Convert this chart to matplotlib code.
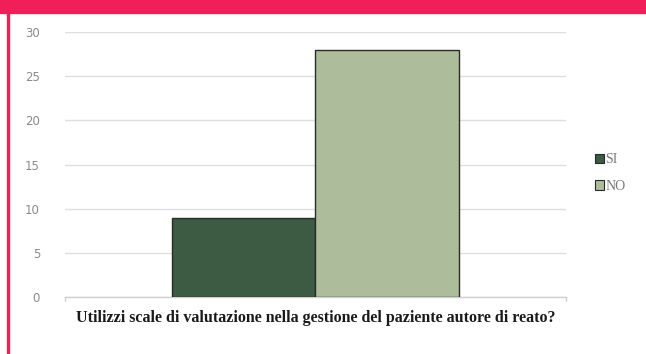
import matplotlib.pyplot as plt
from matplotlib.patches import Rectangle, Patch

categories = ["SI", "NO"]
values = [9, 28]
colors = ["#3d5a42", "#adbd9c"]
question = "Utilizzi scale di valutazione nella gestione del paziente autore di reato?"
yticks = [0, 5, 10, 15, 20, 25, 30]

fig = plt.figure(figsize=(6.46, 3.54), dpi=100)
fig.patch.set_facecolor("white")

# pink frame: thick band on top, thin line on the left
fig.patches.append(Rectangle((0, 1 - 13 / 354), 1, 13 / 354, transform=fig.transFigure,
                             color="#f01f5a", zorder=0))
fig.patches.append(Rectangle((7 / 646, 0), 2 / 646, 1, transform=fig.transFigure,
                             color="#f01f5a", zorder=0))

ax = fig.add_axes([65 / 646, 1 - 297 / 354, (566 - 65) / 646, (297 - 32) / 354])

width = 0.286
offsets = [-width / 2, width / 2]
for off, v, c in zip(offsets, values, colors):
    ax.bar(off, v, width=width, color=c, edgecolor="#2a2a2a", linewidth=1.0, zorder=3)

ax.set_xlim(-0.5, 0.5)
ax.set_ylim(0, 30)
ax.set_yticks(yticks)
ax.yaxis.grid(True, color="#dedede", linewidth=1.0, zorder=0)
ax.set_xticks([-0.5, 0.5])
ax.set_xticklabels([])
ax.tick_params(axis="x", length=3, color="#d0d0d0", width=1)
ax.tick_params(axis="y", length=0, pad=18, labelcolor="#8a8a8a", labelsize=8.5)
for lab in ax.get_yticklabels():
    lab.set_family("DejaVu Sans")

for s in ["top", "right", "left"]:
    ax.spines[s].set_visible(False)
ax.spines["bottom"].set_color("#d0d0d0")
ax.spines["bottom"].set_linewidth(1.0)

ax.set_xlabel(question, family="Liberation Serif", fontweight="bold", fontsize=11.5,
              color="#1a1a1a", labelpad=3)

handles = [Patch(facecolor=c, edgecolor="#2a2a2a", linewidth=0.8) for c in colors]
fig.legend(handles, categories, loc="center left", bbox_to_anchor=(582 / 646, 1 - 173 / 354),
           frameon=False, handlelength=0.65, handleheight=0.65, handletextpad=0.15,
           labelspacing=1.0, prop={"family": "Liberation Serif", "size": 10},
           labelcolor="#7a7a7a")

fig.savefig("out.png", dpi=100)
